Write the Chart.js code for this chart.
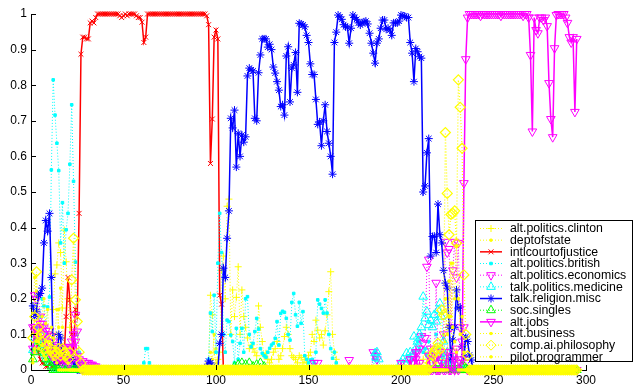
<!DOCTYPE html>
<html>
<head>
<meta charset="utf-8">
<script src="https://cdn.jsdelivr.net/npm/chart.js@4.4.0/dist/chart.umd.min.js"></script>
<style>
  html, body { margin: 0; padding: 0; background: #fff; }
  #wrap { width: 636px; height: 388px; }
</style>
</head>
<body>
<div id="wrap"><canvas id="topicChart" width="636" height="388"></canvas></div>
<script>
// time steps 1..N, every series has a value at each step
const N = 295;
const xTicks = [0, 50, 100, 150, 200, 250, 300];
const yTicks = [0, 0.1, 0.2, 0.3, 0.4, 0.5, 0.6, 0.7, 0.8, 0.9, 1];

const seriesNames = [
  "alt.politics.clinton", "deptofstate", "intlcourtofjustice", "alt.politics.british",
  "alt.politics.economics", "talk.politics.medicine", "talk.religion.misc", "soc.singles",
  "alt.jobs", "alt.business", "comp.ai.philosophy", "pilot.programmer"
];

// each series: [first step, [values...]] runs, steps not listed read as 0
const clinton = [
  [1, [.05,.1,.08,.12,.06,.08,.05,.06,.04,.03, .06,.17,.27,.295,.357,.33,.174,.393,.304,.2, .12,.06,.03,.04,.03]],
  [96, [.02,.21,.155,.05,.02,.03,.05,.28,.32,.2, .46,.48,.1,.225,.15,.204,.29,.1,.225,.15,
        .12,.09,.06,.07,.06,.05,.04,.18,.12,.08, .04,.047,.03,.02,.03,.05,.06,.08,.03,.04,
        .06,.094,.12,.1,.06,.04,.035,.03,.02,.04, .035,.02,.03,.02,.04,.05,.1,.08,.14,.112,
        .09,.1,.07,.11,.155,.22,.276,.1,.05,.03]],
  [212, [.03,.05,.02,.04,.06,.03,.04,.02,.06,.04,.03,.05,.02]]
];
const deptofstate = [
  [1, [.16,.26,.22,.15,.1,.12,.08,.05,.06,.04, .03,.05,.1,.17,.12,.06,.03,.02]],
  [97, [.05,.03,.1,.06,.02]],
  [222, [.05,.1,.08,.2,.15,.12,.06]]
];
const intlcourt = [
  [1, [.12,.11,.08,.05,.03,.02,.02,.01,.01,.02, .01,.01,.02,.01,.02,.02,.03,.05,.15,.26,
       .197,.10,.05,.17,.15,.44,.887,.935,.935,.93, .93,.975,.98,.975,.99,1,1,1,1,1,
       1,1,1,1,1,1,1,.995,.99,.995, 1,.995,1,1,1,1,.995,.99,.99,.977,
       .92,.935,1,1,1,1,1,1,1,1, 1,1,1,1,1,1,1,1,1,1,
       1,1,1,1,1,1,1,1,1,1, 1,1,1,1,.995,.97,.58,.705,.935,.955,
       .93,.21,.185]]
];
const british = [
  [1, [.05,.08,.12,.1,.15,.2,.18,.1,.177,.205, .562,.815,.716,.637,.56,.357,.47,.3,.394,.44,
       .578,.745,.53,.303,.1,.05,.02]],
  [61, [.02,.06,.06,.02]],
  [96, [.03,.16,.108,.21,.05,.30,.44,.33,.10,.05, .14,.136,.098,.08,.02,.117,.03,.075,.117,.05,
        .2,.206,.1,.065,.075,.108,.145,.115,.06,.047, .04,.036,.05,.061,.07,.075,.089,.136,.07,.159,
        .165,.162,.145,.1,.084,.19,.215,.155,.123,.19, .131,.164,.04,.03,.02,.028,.03,.02,.05,.197,
        .185,.173,.16,.197,.16,.1,.06,.033,.05,.02]],
  [185, [.03,.05,.03]],
  [205, [.02,.03,.05,.04,.08,.06,.1,.05,.06,.04,.08,.03,.05,.02,.1,.03,.06,.02,.04,.02,.03,.01,.02]]
];
const economics = [
  [1, [.12,.21,.2,.21,.15,.13,.12,.11,.1,.11, .095,.08,.07,.065,.06,.05,.05,.06,.065,.06,
       .065,.08,.1,.155,.108,.03,.02,.025,.02,.02, .02,.015,.015,.01,.01]],
  [153, [.02,0,.02]],
  [172, [.028]],
  [185, [.05,.04,.03]],
  [205, [.03,.02,.04,.03,.05,.06,.095,.075,.09, .29,.31,.06,.04,.03,.245,.04,.03,.05,.1,
         .36,.33,.34,.12,.28,.36,.26,.357,.12,.08,.12,.02]]
];
const medicine = [
  [1, [.056,.09,.07,.11,.09,.07,.05,.04,.03,.02,.02,.01]],
  [186, [.047,.05,.03]],
  [200, [.02,.03,.02,.047,.03,.05,.042,.094,.06,.08, .1,.12,.206,.145,.164,.126,.14,.12,.155,.136,
         .168,.187,.15,.08,.04,.05,.03,.02,.03,.02,.01]]
];
const religion = [
  [1, [.18,.15,.165,.21,.215,.23,.357,.42,.39,.44, .26,.05,.02,.02,.1,.09,.04,.02,.03,.03, .035,.03,.02,.01]],
  [95, [.01,.025,.02,.01,0,0,0,.075,.1,.286, .26,.37,.447,.707,.68,.73,.57,.665,.60,.66,
        .64,.655,.826,.848,.843,.84,.707,.70,.835,.885, .93,.93,.93,.907,.915,.9,.851,.834,.81,.786,
        .74,.745,.716,.882,.908,.753,.848,.857,.892,.78, .974,.972,.969,.964,.94,.92,.86,.83,.83,.76,
        .69,.697,.63,.70,.745,.67,.637,.60,.55,.92, .949,.997,.992,.985,.97,.964,.963,.918,.96,.997,
        .99,.985,.975,.969,.975,.978,.98,.972,.946,.918, .89,.862,.918,.93,.96,.983,.983,.957,.96,.955,
        .94,.975,.975,.975,.98,.997,.995,.994,.99,.99, .92,.89,.81,.903,.894,.88,.876,.5,.517,.61,
        .65,.32,.375,.376,.33,.466,.38,.357,.28,.244, .23,.12,.03,.084,.12,.225,.174,.177,.065,.037,
        .093,.08,.042,.028]]
];
const singles = [
  [1, [.03,.05,.065,.093,.08,.06,.047,.03,.02,.02,.01]],
  [110, [.01,0,.015,0,.02,0,.015,0,.02,0,.01,0,.015,0,.02,0,.01]],
  [233, [.01,.01,.005]]
];
const jobs = [
  [1, [.06,.12,.1,.09,.13,.12,.1,.08,.06,.05, .04,.05,.03,.03,.04,.035,.02,.03,.03,.02, .02,.06,.1,.08,.04,.02,.01]],
  [200, [.02,0,0,0,0,.03,0,0,.05,0, .02,0,0,0,0,.04,0,0,.03,0, 0,0,.02,0,0,.05,0,0,.04,0,
         .06,0,.02,.03, .525,.873,.99,1,1,1, 1,1,1,.995,1,1,1,1,1,1, 1,1,1,1,.995,1,1,1,1,1,
         1,1,1,1,1,1,.995,1,1,.99, .885,.67,.99,.955,.946,.99,.99,.983,.99,.966,
         .806,.705,.654,.904,.997,1,1,1,1,.99, .975,.935,.92,.935,.725,.93]]
];
const business = [
  [1, [.02,.05,.08,.06,.1,.07,.04,.03,.05,.08, .12,.09,.06,.05,.17,.23,.12,.06,.03,.02]],
  [224, [.2,.1,.15,.3,.12,.08,.05]]
];
const philosophy = [
  [1, [.09,.15,.276,.12,.1,.08,.06,.05,.07,.084, .06,.05,.04,.05,.06,.04,.06,.05,.04,.03, .05,.253,.37,.197,.136,.05,.02]],
  [216, [.02,.04,.05,.06,.075,.058,.168,.155,.667,.496, .38,.437,.44,.447,.356,.815,.738,.623,.267,.1, .04]]
];
const pilot = [
  [1, [.03,.06,.1,.08,.1,.15,.2,.13,.17,.08, .05,.03,.04,.02]],
  [226, [.25,.15,.3,.2,.35,.2,.1,.15,.05]]
];

const seriesData = [clinton, deptofstate, intlcourt, british, economics, medicine,
                    religion, singles, jobs, business, philosophy, pilot];

// marker / line look of each series (matlab style)
const styles = [
  { color: "#ffff00", marker: "cross",    rot: 0,   r: 3.5, dash: [1, 2], width: 1 },
  { color: "#ffff00", marker: "rect",     rot: 0,   r: 1.5, dash: [1, 2], width: 1, fill: true },
  { color: "#ff0000", marker: "crossRot", rot: 0,   r: 3.5, dash: [],     width: 1.5 },
  { color: "#00ffff", marker: "rect",     rot: 0,   r: 1.8, dash: [1, 2], width: 1, fill: true },
  { color: "#ff00ff", marker: "triangle", rot: 180, r: 5,   dash: [1, 2], width: 1 },
  { color: "#00ffff", marker: "triangle", rot: 0,   r: 5,   dash: [1, 2], width: 1 },
  { color: "#0000ff", marker: "star",     rot: 0,   r: 4,   dash: [],     width: 1.5 },
  { color: "#00ff00", marker: "triangle", rot: 0,   r: 5,   dash: [1, 2], width: 1 },
  { color: "#ff00ff", marker: "triangle", rot: 180, r: 5,   dash: [],     width: 1.5 },
  { color: "#ffff00", marker: "rect",     rot: 0,   r: 1.5, dash: [1, 2], width: 1, fill: true },
  { color: "#ffff00", marker: "rectRot",  rot: 0,   r: 5,   dash: [1, 2], width: 1.2 },
  { color: "#ffff00", marker: "rect",     rot: 0,   r: 1.5, dash: [1, 2], width: 1, fill: true }
];

function expand(runs) {
  var vals = Array(N).fill(0);
  runs.forEach(function (run) {
    run[1].forEach(function (v, k) { vals[run[0] - 1 + k] = v; });
  });
  return vals.map(function (v, k) { return { x: k + 1, y: v }; });
}

const datasets = seriesData.map(function (runs, i) {
  const s = styles[i];
  return {
    label: seriesNames[i],
    data: expand(runs),
    borderColor: s.color,
    borderWidth: s.width,
    borderDash: s.dash,
    pointStyle: s.marker,
    pointRotation: s.rot,
    pointRadius: s.r,
    pointBorderWidth: s.marker === "rectRot" ? 1.2 : 1,
    pointBorderColor: s.color,
    pointBackgroundColor: s.fill ? s.color : "rgba(0,0,0,0)",
    tension: 0,
    fill: false,
    clip: false,
    order: seriesNames.length - i // later series on top, as matlab draws
  };
});

const FONT = "'Liberation Sans', Arial, Helvetica, sans-serif";

const matlabBits = {
  id: "matlabBits",
  afterDatasetsDraw: function (chart) {
    const ctx = chart.ctx;
    const area = chart.chartArea;
    const xs = chart.scales.x, ys = chart.scales.y;
    ctx.save();
    // inward ticks
    ctx.strokeStyle = "#000";
    ctx.lineWidth = 1;
    ctx.setLineDash([]);
    ctx.beginPath();
    xTicks.forEach(function (v) {
      const px = Math.round(xs.getPixelForValue(v)) + 0.5;
      ctx.moveTo(px, area.bottom);
      ctx.lineTo(px, area.bottom - 5);
    });
    yTicks.forEach(function (v) {
      const py = Math.round(ys.getPixelForValue(v)) + 0.5;
      ctx.moveTo(area.left, py);
      ctx.lineTo(area.left + 5, py);
    });
    ctx.stroke();

    // legend box
    const bx = 475.5, by = 220.5, bw = 157, bh = 141;
    ctx.fillStyle = "#fff";
    ctx.fillRect(bx, by, bw, bh);
    ctx.strokeStyle = "#000";
    ctx.strokeRect(bx, by, bw, bh);
    ctx.font = "12.3px " + FONT;
    ctx.textBaseline = "middle";
    ctx.textAlign = "left";
    seriesNames.forEach(function (name, i) {
      const s = styles[i];
      const y = 228.5 + i * 11.67;
      ctx.strokeStyle = s.color;
      ctx.lineWidth = s.width;
      ctx.setLineDash(s.dash);
      ctx.beginPath();
      ctx.moveTo(480, y);
      ctx.lineTo(502, y);
      ctx.stroke();
      ctx.setLineDash([]);
      ctx.lineWidth = 1;
      ctx.fillStyle = s.fill ? s.color : "rgba(0,0,0,0)";
      Chart.helpers.drawPoint(ctx, { pointStyle: s.marker, rotation: s.rot, radius: s.r, borderWidth: 1 }, 491, y);
      ctx.fillStyle = "#000";
      ctx.fillText(name, 510, y + 0.5);
    });
    ctx.restore();
  }
};

Chart.defaults.font.family = FONT;
Chart.defaults.font.size = 12;
Chart.defaults.color = "#000";

new Chart(document.getElementById("topicChart"), {
  type: "line",
  data: { datasets: datasets },
  options: {
    responsive: false,
    animation: false,
    layout: { padding: { top: 14, right: 50, bottom: 0, left: 0 } },
    plugins: { legend: { display: false }, tooltip: { enabled: false } },
    scales: {
      x: {
        type: "linear",
        min: 0,
        max: 300,
        afterFit: function (s) { s.height = 18; },
        afterBuildTicks: function (s) { s.ticks = xTicks.map(function (v) { return { value: v }; }); },
        grid: { display: false, drawTicks: false },
        border: { display: true, color: "#000", width: 1 },
        ticks: { padding: 3, maxRotation: 0, autoSkip: false }
      },
      y: {
        min: 0,
        max: 1,
        afterFit: function (s) { s.width = 31; },
        afterBuildTicks: function (s) { s.ticks = yTicks.map(function (v) { return { value: v }; }); },
        grid: { display: false, drawTicks: false },
        border: { display: true, color: "#000", width: 1 },
        ticks: {
          padding: 4,
          autoSkip: false,
          callback: function (v) { return String(Math.round(v * 10) / 10); }
        }
      }
    }
  },
  plugins: [matlabBits]
});
</script>
</body>
</html>
